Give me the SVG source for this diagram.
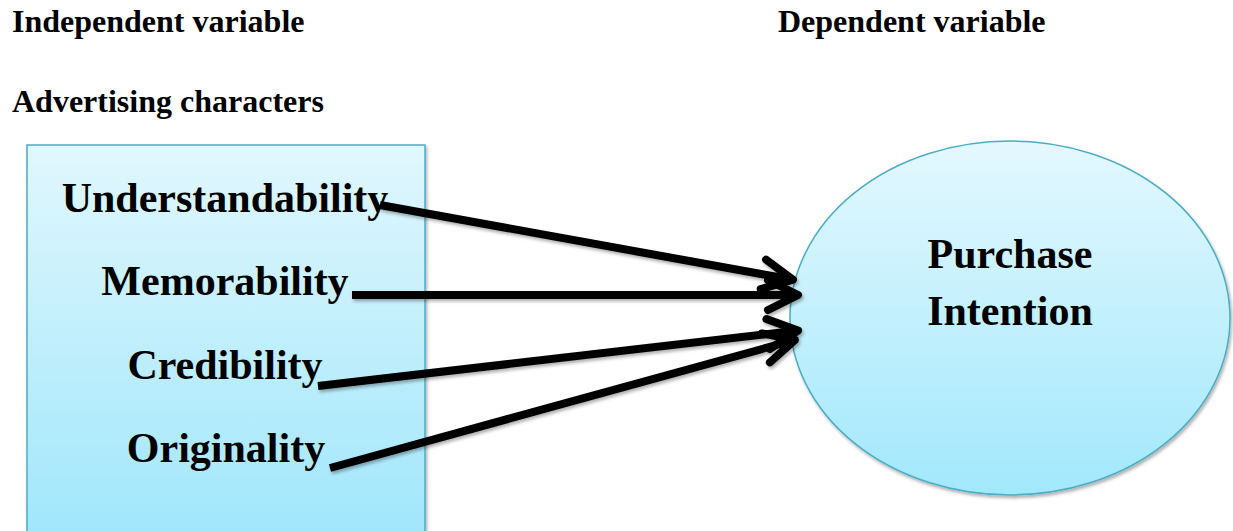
<svg xmlns="http://www.w3.org/2000/svg" width="1233" height="531" viewBox="0 0 1233 531">
<style>
.hdr{font-family:"Liberation Serif","Times New Roman",serif;font-weight:bold;font-size:32px;fill:#000}
.lbl{font-family:"Liberation Serif","Times New Roman",serif;font-weight:bold;font-size:42px;fill:#000;text-anchor:middle}
.con{stroke:#000;stroke-width:8;fill:none;stroke-linecap:butt;marker-end:url(#chev)}
.shape{stroke:#4bacc6;stroke-width:1.5;filter:url(#shd)}
</style>
<defs>
<linearGradient id="gBox" x1="0" y1="0" x2="0" y2="1">
<stop offset="0" stop-color="#e1f7fd"/>
<stop offset="1" stop-color="#9fe6fb"/>
</linearGradient>
<linearGradient id="gEll" x1="0" y1="0" x2="0" y2="1">
<stop offset="0" stop-color="#e4f8fe"/>
<stop offset="1" stop-color="#a2e8fc"/>
</linearGradient>
<filter id="shd" filterUnits="userSpaceOnUse" x="0" y="0" width="1233" height="531">
<feDropShadow dx="1.5" dy="2.5" stdDeviation="1.8" flood-color="#000" flood-opacity="0.3"/>
</filter>
<marker id="chev" markerUnits="userSpaceOnUse" viewBox="-40 -24 50 48" markerWidth="50" markerHeight="48" refX="0" refY="0" orient="auto">
<path d="M-26,-15 L4,0 L-26,15" fill="none" stroke="#000" stroke-width="8" stroke-linecap="round" stroke-linejoin="round"/>
</marker>
</defs>
<g id="headings">
<text class="hdr" x="12" y="32">Independent variable</text>
<text class="hdr" x="778" y="32">Dependent variable</text>
<text class="hdr" x="12" y="112">Advertising characters</text>
</g>
<g id="box">
<rect class="shape" x="27" y="145" width="398" height="400" fill="url(#gBox)"/>
<text class="lbl" x="225" y="212">Understandability</text>
<text class="lbl" x="225" y="295">Memorability</text>
<text class="lbl" x="225" y="379">Credibility</text>
<text class="lbl" x="226" y="462">Originality</text>
</g>
<g id="purchase">
<ellipse class="shape" cx="1010" cy="318" rx="220" ry="177" fill="url(#gEll)"/>
<text class="lbl" x="1010" y="268">Purchase</text>
<text class="lbl" x="1010" y="325">Intention</text>
</g>
<g id="connectors" filter="url(#shd)">
<path class="con" d="M380,205 L789,279"/>
<path class="con" d="M352,295 L794,295"/>
<path class="con" d="M318,386 L794,331"/>
<path class="con" d="M330,468 L791,341"/>
</g>
</svg>
